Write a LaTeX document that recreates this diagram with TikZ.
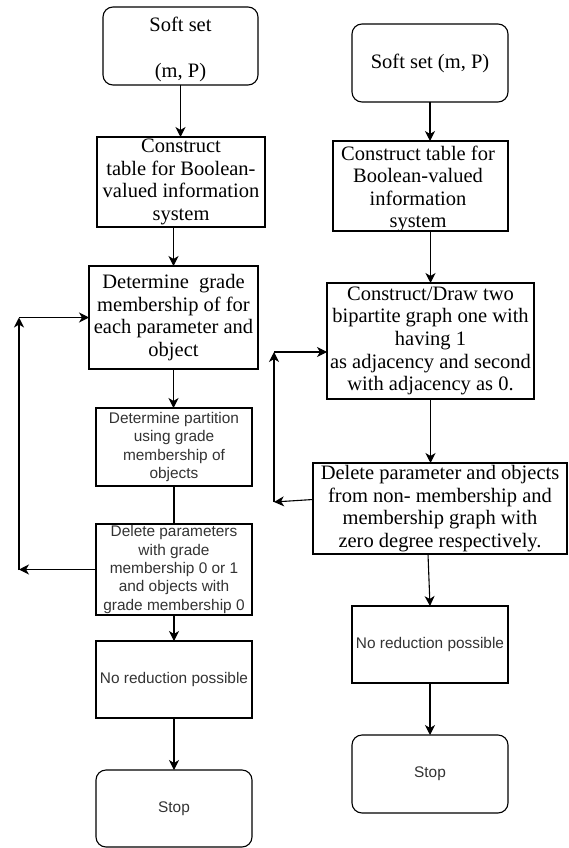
\documentclass[tikz,border=0pt]{standalone}
\usepackage{fontspec}
\setmainfont{Liberation Serif}
\setsansfont{Liberation Sans}
\usetikzlibrary{arrows.meta,calc}
\begin{document}
\begin{tikzpicture}[x=1pt,y=-1pt,
  box/.style={draw, line width=1.1pt, inner sep=0pt, outer sep=0pt, align=center},
  rbox/.style={box, rounded corners=10pt},
  serif/.style={font=\fontsize{20.5}{22.6}\selectfont\rmfamily},
  sans/.style={font=\fontsize{15.4}{18.3}\selectfont\sffamily, text=black!80},
  arr/.style={line width=1.1pt, -{Stealth[length=10pt,width=10pt,inset=3pt]}},
  ln/.style={line width=1.1pt}]
\useasboundingbox[fill=white] (0,0) rectangle (568,848);

% left column
\node[rbox, minimum width=155pt, minimum height=78pt] (L1) at (180.5,46) {};
\node[serif, align=center] (L1t) at (180.5,49.5) {Soft set\\~\\(m, P)};
\node[box, serif, minimum width=168pt, minimum height=90pt] (L2) at (181,182) {Construct\\table for Boolean-\\valued information\\system};
\node[box, serif, minimum width=169pt, minimum height=103pt] (L3) at (173.5,317.5) {Determine\ \ grade\\membership of for\\each parameter and\\object};
\node[box, sans, minimum width=156pt, minimum height=78pt] (L4) at (174,447) {Determine partition\\using grade\\membership of\\objects};
\node[box, sans, minimum width=156pt, minimum height=91pt] (L5) at (174,569.5) {Delete parameters\\with grade\\membership 0 or 1\\and objects with\\grade membership 0};
\node[box, sans, minimum width=156pt, minimum height=77pt] (L6) at (174,679.5) {No reduction possible};
\node[rbox, sans, minimum width=156pt, minimum height=77pt] (L7) at (174,808.5) {Stop};

\draw[arr] (L1.south) -- (L1.south |- L2.north);
\draw[arr] (L3.north |- L2.south) -- (L3.north);
\draw[arr] (L3.south) -- (L3.south |- L4.north);
\draw[ln] (L4.south) -- (L5.north);
\draw[arr] (L5.south) -- (L6.north);
\draw[arr] (L6.south) -- (L7.north);

\coordinate (fa) at (19,570);
\coordinate (fb) at (19,317.5);
\draw[arr] (L5.west) -- (L5.west -| fa);
\draw[arr] (fa) -- (fb);
\draw[arr] (fb) -- (fb -| L3.west);

% right column
\node[rbox, serif, minimum width=156pt, minimum height=78pt] (R1) at (430,63) {Soft set (m, P)};
\node[box, minimum width=175pt, minimum height=90pt] (R2) at (420.5,186) {};
\node[serif, align=center] (R2t) at (418,189) {Construct table for\\Boolean-valued\\information\\system};
\node[box, serif, minimum width=207pt, minimum height=116pt] (R3) at (430.5,341) {Construct/Draw two\\bipartite graph one with\\having 1\\as adjacency and second\\with adjacency as 0.};
\node[box, serif, minimum width=254pt, minimum height=91pt] (R4) at (440,508.5) {Delete parameter and objects\\from non- membership and\\membership graph with\\zero degree respectively.};
\node[box, sans, minimum width=156pt, minimum height=77pt] (R5) at (430,644.5) {No reduction possible};
\node[rbox, sans, minimum width=156pt, minimum height=78pt] (R6) at (430,774) {Stop};

\draw[arr] (R1.south) -- (R1.south |- R2.north);
\draw[arr] (R3.north |- R2.south) -- (R3.north);
\draw[arr] (R3.south) -- (R3.south |- R4.north);
\draw[arr] ($(R4.south)+(-12,0)$) -- (R5.north);
\draw[arr] (R5.south) -- (R6.north);

\coordinate (ga) at (274,502);
\coordinate (gb) at (274,352);
\draw[arr] ($(R4.west)+(0,-9)$) -- (ga);
\draw[arr] (ga) -- (gb);
\draw[arr] (gb) -- (gb -| R3.west);
\end{tikzpicture}
\end{document}
